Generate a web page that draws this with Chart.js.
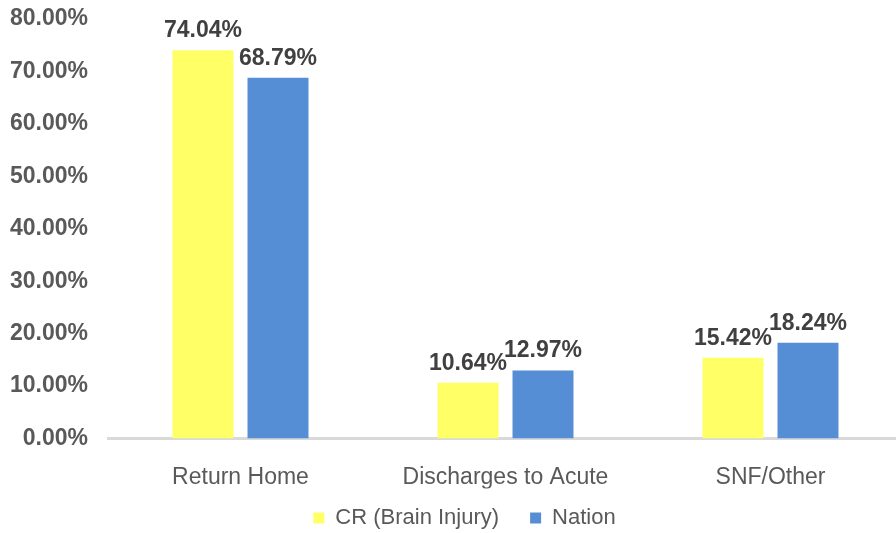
<!DOCTYPE html>
<html>
<head>
<meta charset="utf-8">
<script src="https://cdn.jsdelivr.net/npm/chart.js@4.4.1/dist/chart.umd.min.js"></script>
<style>
    html, body { margin: 0; padding: 0; background: #fff; overflow: hidden; }
    #wrap { width: 903px; height: 533px; }
</style>
</head>
<body>
<div id="wrap"><canvas id="dischargeChart" width="903" height="533"></canvas></div>
<script>
// 퇴원 결과 비교 차트 (CR vs Nation)
const categories = ['Return Home', 'Discharges to Acute', 'SNF/Other'];
const crValues = [74.04, 10.64, 15.42];
const nationValues = [68.79, 12.97, 18.24];
const yTicks = [0, 10, 20, 30, 40, 50, 60, 70, 80];

const FONT = '"Liberation Sans", Arial, sans-serif';

// 막대 위에 값 표시
const valueLabels = {
    id: 'valueLabels',
    afterDatasetsDraw(chart) {
        const ctx = chart.ctx;
        ctx.save();
        ctx.font = 'bold 23px ' + FONT;
        ctx.fillStyle = '#404040';
        ctx.textAlign = 'center';
        ctx.textBaseline = 'alphabetic';
        chart.data.datasets.forEach((ds, i) => {
            chart.getDatasetMeta(i).data.forEach((bar, j) => {
                ctx.fillText(ds.data[j].toFixed(2) + '%', bar.x, bar.y - 13);
            });
        });
        ctx.restore();
    }
};

// 범례 높이/위치 조정
const legendTweak = {
    id: 'legendTweak',
    beforeInit(chart) {
        const origFit = chart.legend.fit;
        chart.legend.fit = function() {
            origFit.bind(chart.legend)();
            this.height = 44.5;
        };
    },
    afterLayout(chart) {
        chart.legend.left += 13;
        chart.legend.right += 13;
        chart.legend.top = 476;
        chart.legend.bottom = 533;
    }
};

const ctx = document.getElementById('dischargeChart');
new Chart(ctx, {
    type: 'bar',
    data: {
        labels: categories,
        datasets: [{
            label: 'CR (Brain Injury)',
            data: crValues,
            backgroundColor: '#FFFF66',
            borderWidth: 0
        }, {
            label: 'Nation',
            data: nationValues,
            backgroundColor: '#558ED5',
            borderWidth: 0
        }]
    },
    options: {
        responsive: false,
        animation: false,
        categoryPercentage: 0.566,
        barPercentage: 0.813,
        layout: { padding: { top: 19, left: 0, right: 0, bottom: 0 } },
        plugins: {
            legend: {
                position: 'bottom',
                labels: {
                    boxWidth: 11,
                    boxHeight: 11,
                    padding: 31,
                    color: '#595959',
                    font: { family: FONT, size: 22 }
                }
            },
            tooltip: { enabled: false }
        },
        scales: {
            x: {
                grid: { display: false },
                border: { display: true, color: '#D9D9D9', width: 3 },
                ticks: {
                    color: '#595959',
                    padding: 17,
                    font: { family: FONT, size: 23 }
                },
                afterFit: scale => { scale.height = 50; }
            },
            y: {
                min: 0,
                max: 80,
                afterBuildTicks: scale => { scale.ticks = yTicks.map(v => ({ value: v })); },
                grid: { display: false },
                border: { display: false },
                ticks: {
                    color: '#595959',
                    padding: 12,
                    font: { family: FONT, size: 23, weight: 'bold' },
                    callback: v => v.toFixed(2) + '%'
                },
                afterFit: scale => {
                    scale.width = 108;
                    scale.paddingTop = 0;
                    scale.paddingBottom = 0;
                }
            }
        }
    },
    plugins: [valueLabels, legendTweak]
});
</script>
</body>
</html>
